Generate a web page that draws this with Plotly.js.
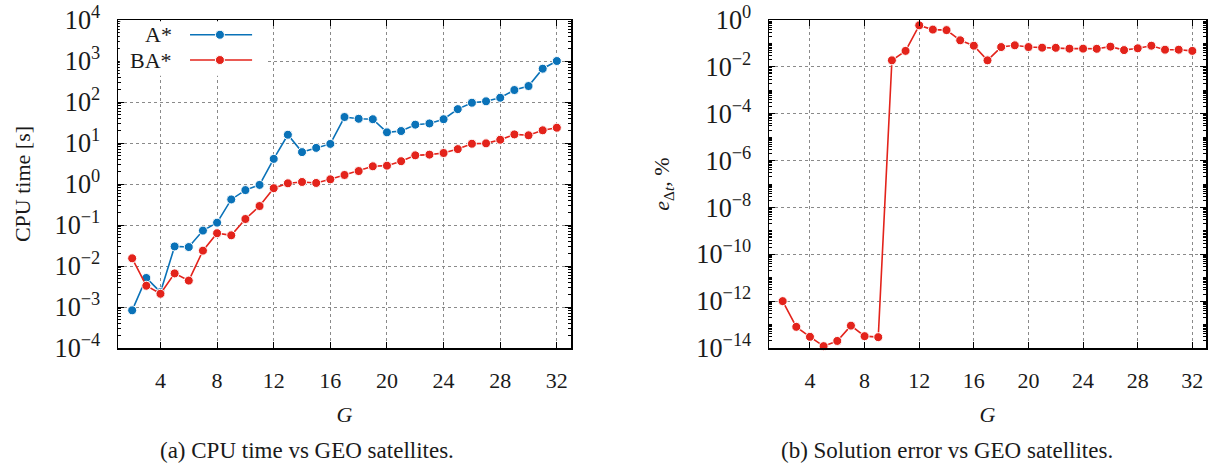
<!DOCTYPE html>
<html>
<head>
<meta charset="utf-8">
<script src="https://cdn.plot.ly/plotly-3.0.1.min.js"></script>
<style>html,body{margin:0;padding:0;background:#fff;}#chart{width:1212px;height:468px;}</style>
</head>
<body>
<div id="chart"></div>
<script>
// ---- data ----
const G = [2,3,4,5,6,7,8,9,10,11,12,13,14,15,16,17,18,19,20,21,22,23,24,25,26,27,28,29,30,31,32];
const seriesNames = ['A*', 'BA*'];
const aStarTime = [8.3e-4,5.1e-3,2.3e-3,0.030,0.029,0.073,0.114,0.42,0.71,0.95,4.1,15.9,6.0,7.6,9.5,43,39,38,18.2,19.6,28,30,38,67,96,104,127,196,245,649,1000];
const baStarTime = [0.0154,0.0033,0.0021,0.0066,0.0044,0.0237,0.063,0.056,0.14,0.29,0.79,1.04,1.12,1.06,1.3,1.66,2.07,2.7,2.8,3.6,5.0,5.2,5.7,7.1,9.6,9.8,12.0,16.2,15.4,20.4,23.6];
const baStarError = [1e-12,8e-14,3e-14,1.2e-14,2e-14,9e-14,3.2e-14,2.9e-14,0.019,0.048,0.59,0.39,0.37,0.136,0.08,0.019,0.07,0.083,0.07,0.066,0.065,0.06,0.06,0.059,0.073,0.052,0.062,0.08,0.054,0.054,0.048];
const xTicks = [4,8,12,16,20,24,28,32];
const leftDecadeStep = 1;   // labelled every decade
const rightDecadeStep = 2;  // labelled every other decade
const captions = ['(a) CPU time vs GEO satellites.', '(b) Solution error vs GEO satellites.'];

// ---- style ----
const BLUE = '#0a72b8';
const RED = '#e3231b';
const FONT = 'Liberation Serif, DejaVu Serif, serif';
const TXT = '#1a1a1a';

function trace(y, color, name, xa, ya) {
  return {
    x: G, y: y, name: name, type: 'scatter', mode: 'lines+markers',
    xaxis: xa, yaxis: ya, cliponaxis: false, showlegend: false,
    line: {color: color, width: 1.6},
    marker: {color: color, size: 9, line: {color: '#fff', width: 1}}
  };
}

const data = [
  trace(aStarTime, BLUE, seriesNames[0], 'x', 'y'),
  trace(baStarTime, RED, seriesNames[1], 'x', 'y'),
  trace(baStarError, RED, seriesNames[1], 'x2', 'y2')
];

function xAxis(domain, anchor) {
  return {
    domain: domain, anchor: anchor, range: [1, 33],
    tickmode: 'array', tickvals: xTicks,
    ticks: 'inside', ticklen: 6, tickcolor: '#000', tickwidth: 1,
    showline: true, linecolor: '#000', linewidth: 1.5, mirror: 'allticks',
    showgrid: true, gridcolor: '#8a8a8a', griddash: 'dot', gridwidth: 1,
    zeroline: false, ticklabelstandoff: 12,
    tickfont: {family: FONT, size: 22, color: TXT},
    title: {text: '<i>G</i>', font: {family: FONT, size: 22, color: TXT}, standoff: 14}
  };
}
function yAxis(anchor, step, rng, title, standoff) {
  return {
    domain: [0, 1], anchor: anchor, type: 'log', range: rng,
    tickmode: 'linear', tick0: 0, dtick: step, exponentformat: 'power',
    labelalias: {'1': '10<sup>0</sup>', '10': '10<sup>1</sup>'},
    ticks: 'inside', ticklen: 6, tickcolor: '#000', tickwidth: 1,
    minor: {dtick: 'D1', ticks: 'inside', ticklen: 3, tickcolor: '#000', tickwidth: 1, showgrid: false},
    showline: true, linecolor: '#000', linewidth: 1.5, mirror: 'allticks',
    showgrid: true, gridcolor: '#8a8a8a', griddash: 'dot', gridwidth: 1,
    zeroline: false, ticklabelstandoff: 12,
    tickfont: {family: FONT, size: 21, color: TXT},
    title: {text: title, font: {family: FONT, size: 22, color: TXT}, standoff: standoff}
  };
}

const dom1 = [118/1212, 571/1212];
const dom2 = [769/1212, 1206/1212];

// legend key (text left, sample line + marker right), placed in the left panel's domain
const legendRows = [
  {name: seriesNames[0], color: BLUE, y: 0.955},
  {name: seriesNames[1], color: RED, y: 0.878}
];
const shapes = [{
  type: 'rect', xref: 'x domain', yref: 'y domain', x0: 0.004, x1: 0.325, y0: 0.83, y1: 0.996,
  fillcolor: '#fff', line: {width: 0}, layer: 'above'
}];
const annotations = [];
legendRows.forEach(r => {
  shapes.push({type: 'line', xref: 'x domain', yref: 'y domain', x0: 0.159, x1: 0.296, y0: r.y, y1: r.y,
    line: {color: r.color, width: 1.6}, layer: 'above'});
  shapes.push({type: 'circle', xref: 'x domain', yref: 'y domain', xsizemode: 'pixel', ysizemode: 'pixel',
    xanchor: 0.225, yanchor: r.y, x0: -4.5, x1: 4.5, y0: -4.5, y1: 4.5,
    fillcolor: r.color, line: {color: '#fff', width: 1}, layer: 'above'});
  annotations.push({xref: 'x domain', yref: 'y domain', x: 0.123, y: r.y, xanchor: 'right', yanchor: 'middle',
    text: r.name, showarrow: false, font: {family: FONT, size: 22, color: TXT}});
});
annotations.push({xref: 'paper', yref: 'paper', x: 307/1212, y: -0.311, xanchor: 'center', yanchor: 'middle',
  text: captions[0], showarrow: false, font: {family: FONT, size: 23, color: TXT}});
annotations.push({xref: 'paper', yref: 'paper', x: 947/1212, y: -0.311, xanchor: 'center', yanchor: 'middle',
  text: captions[1], showarrow: false, font: {family: FONT, size: 23, color: TXT}});

const layout = {
  width: 1212, height: 468,
  margin: {l: 0, r: 0, t: 20, b: 120},
  paper_bgcolor: '#fff', plot_bgcolor: '#fff',
  showlegend: false,
  xaxis: xAxis(dom1, 'y'),
  yaxis: yAxis('x', leftDecadeStep, [-4, 4], 'CPU time [s]', 18),
  xaxis2: xAxis(dom2, 'y2'),
  yaxis2: yAxis('x2', rightDecadeStep, [-14, 0], '<i>e</i><sub>\u0394<i>t</i></sub>, %', 20),
  shapes: shapes,
  annotations: annotations
};

Plotly.newPlot('chart', data, layout, {displayModeBar: false, staticPlot: true});
</script>
</body>
</html>
